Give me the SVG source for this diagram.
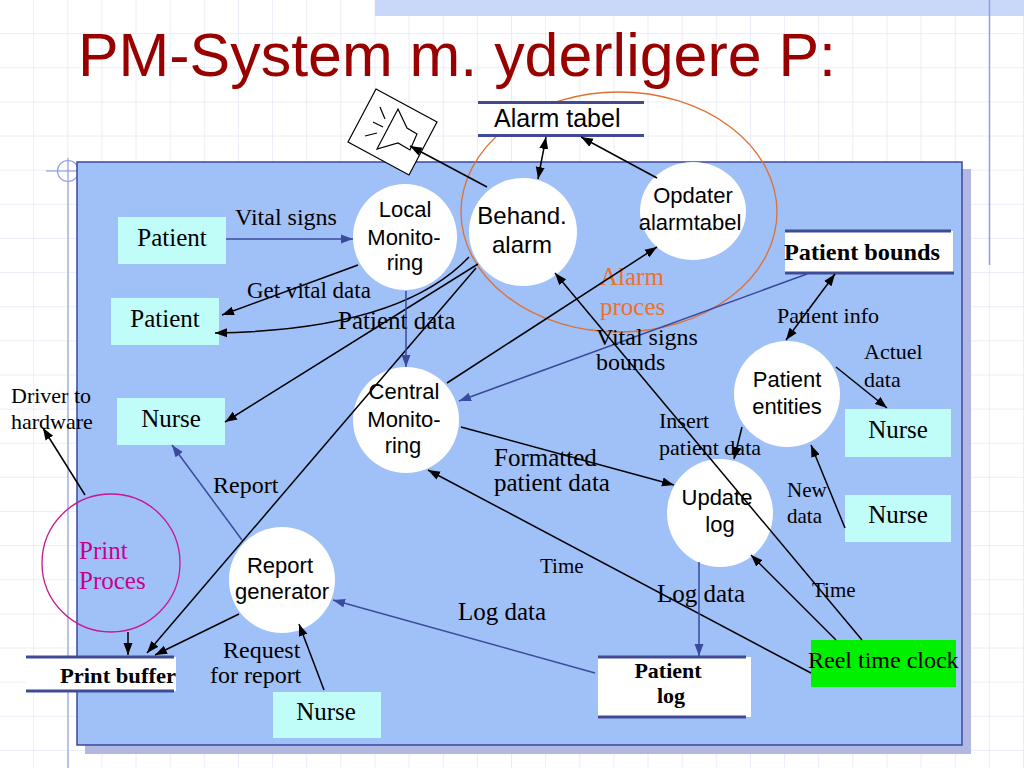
<svg xmlns="http://www.w3.org/2000/svg" width="1024" height="768" viewBox="0 0 1024 768">
<defs>
<pattern id="grid" x="0" y="0" width="34.133" height="34.133" patternUnits="userSpaceOnUse">
<path d="M34.133,0 V34.133 M0,34.133 H34.133" fill="none" stroke="#d6ddf3" stroke-width="1"/>
</pattern>
<marker id="ak" viewBox="0 0 12 10" refX="12" refY="5" markerWidth="12" markerHeight="10" markerUnits="userSpaceOnUse" orient="auto-start-reverse">
<path d="M0,0.5 L12,5 L0,9.5 z" fill="#000"/>
</marker>
<marker id="ab" viewBox="0 0 12 10" refX="12" refY="5" markerWidth="12" markerHeight="10" markerUnits="userSpaceOnUse" orient="auto-start-reverse">
<path d="M0,0.5 L12,5 L0,9.5 z" fill="#3b4a9c"/>
</marker>
</defs>
<style>
.sans{font-family:"Liberation Sans",Arial,sans-serif;fill:#000}
.serif{font-family:"Liberation Serif","Times New Roman",serif;fill:#000}
.proc{fill:#fff;stroke:none}
.term{fill:#c0fcf8;stroke:none}
.storebg{fill:#fff;stroke:none}
.storeline{stroke:#414a94;stroke-width:3}
.ck{fill:none;stroke:#000;stroke-width:1.5;marker-end:url(#ak)}
.cb{fill:none;stroke:#3b4a9c;stroke-width:1.5;marker-end:url(#ab)}
.mid{text-anchor:middle}
</style>
<!-- background -->
<rect x="0" y="0" width="1024" height="768" fill="#fff"/>
<rect x="0" y="0" width="1024" height="768" fill="url(#grid)"/>
<rect x="375" y="0" width="649" height="16" fill="#c9d8f8"/>
<line x1="989.5" y1="0" x2="989.5" y2="265" stroke="#8f9fe0" stroke-width="1.5"/>
<line x1="68" y1="158" x2="68" y2="768" stroke="#a4b0e6" stroke-width="1.5"/>
<circle cx="68" cy="171" r="10.5" fill="none" stroke="#8f9fe0" stroke-width="1.2"/>
<line x1="46" y1="171" x2="78" y2="171" stroke="#8f9fe0" stroke-width="1.2"/>
<text x="78" y="76" font-family="Liberation Sans, Arial, sans-serif" font-size="62" fill="#990000" textLength="758" lengthAdjust="spacingAndGlyphs">PM-System m. yderligere P:</text>
<!-- panel -->
<rect x="85" y="169" width="886" height="585" fill="#b2b8e2"/>
<rect x="77" y="162" width="885" height="583" fill="#a0c0f8" stroke="#3a48a0" stroke-width="1.5"/>
<!-- groupings -->
<g id="alarm-proces">
<ellipse cx="619" cy="212" rx="158" ry="120" fill="none" stroke="#e07030" stroke-width="1.3"/>
<text class="serif" x="600" y="285" font-size="25" style="fill:#ec7228">Alarm</text>
<text class="serif" x="600" y="315" font-size="25" style="fill:#ec7228">proces</text>
</g>
<g id="print-proces">
<ellipse cx="111" cy="563" rx="69" ry="69" fill="none" stroke="#c8188f" stroke-width="1.3"/>
<text class="serif" x="79" y="559" font-size="25" style="fill:#c8008f">Print</text>
<text class="serif" x="79" y="589" font-size="25" style="fill:#c8008f">Proces</text>
</g>
<!-- nodes -->
<g id="alarm-icon" fill="none" stroke="#000" stroke-width="1.2">
<polygon points="376,89 437,122 409,175 348,142" fill="#fff"/>
<polygon points="398,109 407,128 417,134 410,150 398,143 377,149"/>
<line x1="380" y1="107" x2="385" y2="119"/>
<line x1="373" y1="122" x2="383" y2="127"/>
<line x1="365" y1="136" x2="377" y2="133"/>
</g>
<g id="alarm-tabel">
<rect class="storebg" x="478" y="103" width="166" height="32"/>
<line class="storeline" x1="478" y1="102.5" x2="644" y2="102.5"/>
<line class="storeline" x1="478" y1="135.5" x2="644" y2="135.5"/>
<text class="sans" x="494" y="127" font-size="25">Alarm tabel</text>
</g>
<g id="patient-bounds">
<rect class="storebg" x="785" y="231" width="168" height="41"/>
<line class="storeline" x1="785" y1="231" x2="951" y2="231"/>
<line class="storeline" x1="785" y1="273" x2="954" y2="273"/>
<text class="serif" x="784" y="260" font-size="23" font-weight="bold" textLength="156" lengthAdjust="spacingAndGlyphs">Patient bounds</text>
</g>
<g id="print-buffer">
<rect class="storebg" x="26" y="657" width="150" height="34"/>
<line class="storeline" x1="26" y1="657" x2="174" y2="657"/>
<line class="storeline" x1="26" y1="691" x2="174" y2="691"/>
<text class="serif" x="60" y="683" font-size="22" font-weight="bold" textLength="116" lengthAdjust="spacingAndGlyphs">Print buffer</text>
</g>
<g id="patient-log">
<rect class="storebg" x="598" y="657" width="153" height="60"/>
<line class="storeline" x1="598" y1="657" x2="746" y2="657"/>
<line class="storeline" x1="598" y1="717" x2="746" y2="717"/>
<text class="serif mid" x="668" y="678" font-size="22" font-weight="bold">Patient</text>
<text class="serif mid" x="671" y="703" font-size="22" font-weight="bold">log</text>
</g>
<g id="local-monitoring">
<ellipse class="proc" cx="405" cy="237" rx="52" ry="53"/>
<text class="sans mid" x="405" y="217" font-size="22">Local</text>
<text class="sans mid" x="404" y="245" font-size="22">Monito-</text>
<text class="sans mid" x="405" y="270" font-size="22">ring</text>
</g>
<g id="behand-alarm">
<ellipse class="proc" cx="523" cy="232" rx="54" ry="54"/>
<text class="sans mid" x="522" y="224" font-size="24">Behand.</text>
<text class="sans mid" x="522" y="253" font-size="24">alarm</text>
</g>
<g id="opdater-alarmtabel">
<ellipse class="proc" cx="693" cy="211" rx="53" ry="49"/>
<text class="sans mid" x="693" y="203" font-size="22">Opdater</text>
<text class="sans mid" x="690" y="230" font-size="22">alarmtabel</text>
</g>
<g id="central-monitoring">
<ellipse class="proc" cx="406" cy="420" rx="53" ry="53"/>
<text class="sans mid" x="404" y="399" font-size="22">Central</text>
<text class="sans mid" x="404" y="427" font-size="22">Monito-</text>
<text class="sans mid" x="403" y="453" font-size="22">ring</text>
</g>
<g id="patient-entities">
<ellipse class="proc" cx="787" cy="394" rx="53" ry="53"/>
<text class="sans mid" x="787" y="387" font-size="22">Patient</text>
<text class="sans mid" x="787" y="414" font-size="22">entities</text>
</g>
<g id="update-log">
<ellipse class="proc" cx="720" cy="513" rx="53" ry="54"/>
<text class="sans mid" x="717" y="505" font-size="22">Update</text>
<text class="sans mid" x="720" y="532" font-size="22">log</text>
</g>
<g id="report-generator">
<ellipse class="proc" cx="282" cy="580" rx="53" ry="53"/>
<text class="sans mid" x="280" y="573" font-size="22">Report</text>
<text class="sans mid" x="282" y="599" font-size="22">generator</text>
</g>
<g id="patient-1">
<rect class="term" x="118" y="217" width="108" height="47"/>
<text class="serif mid" x="172" y="246" font-size="25">Patient</text>
</g>
<g id="patient-2">
<rect class="term" x="111" y="298" width="108" height="47"/>
<text class="serif mid" x="165" y="327" font-size="25">Patient</text>
</g>
<g id="nurse-left">
<rect class="term" x="117" y="398" width="108" height="47"/>
<text class="serif mid" x="171" y="427" font-size="25">Nurse</text>
</g>
<g id="nurse-right-top">
<rect class="term" x="845" y="409" width="106" height="48"/>
<text class="serif mid" x="898" y="438" font-size="25">Nurse</text>
</g>
<g id="nurse-right-bottom">
<rect class="term" x="845" y="495" width="106" height="47"/>
<text class="serif mid" x="898" y="523" font-size="25">Nurse</text>
</g>
<g id="nurse-bottom">
<rect class="term" x="273" y="692" width="108" height="46"/>
<text class="serif mid" x="326" y="720" font-size="25">Nurse</text>
</g>
<g id="reel-time-clock">
<rect x="811" y="640" width="145" height="47" fill="#00f000"/>
<text class="serif" x="808" y="668" font-size="24">Reel time clock</text>
</g>
<!-- connectors -->
<g id="connectors">
<line class="ck" x1="487" y1="187" x2="410" y2="146"/>
<line class="ck" x1="546" y1="137" x2="538" y2="179" style="marker-start:url(#ak)"/>
<line class="ck" x1="657" y1="178" x2="581" y2="137"/>
<line class="cb" x1="226" y1="239" x2="353" y2="239"/>
<line class="ck" x1="358" y1="265" x2="222" y2="315"/>
<path class="ck" d="M469,257 Q400,330 215,333"/>
<line class="ck" x1="478" y1="264" x2="225" y2="422"/>
<line class="ck" x1="476" y1="268" x2="147" y2="653"/>
<line class="ck" x1="447" y1="383" x2="657" y2="247"/>
<line class="cb" x1="406" y1="291" x2="406" y2="367"/>
<line class="cb" x1="807" y1="274" x2="459" y2="401"/>
<line class="ck" x1="835" y1="274" x2="786" y2="340" style="marker-start:url(#ak)"/>
<line class="ck" x1="836" y1="367" x2="887" y2="408"/>
<line class="ck" x1="742" y1="427" x2="734" y2="459"/>
<line class="ck" x1="845" y1="528" x2="811" y2="445"/>
<line class="ck" x1="461" y1="427" x2="674" y2="485"/>
<line class="ck" x1="811" y1="673" x2="428" y2="470"/>
<line class="ck" x1="836" y1="640" x2="751" y2="555"/>
<line class="ck" x1="862" y1="640" x2="555" y2="273"/>
<line class="cb" x1="699" y1="562" x2="699" y2="656"/>
<line class="cb" x1="595" y1="673" x2="333" y2="600"/>
<line class="ck" x1="324" y1="690" x2="299" y2="624"/>
<line class="ck" x1="239" y1="614" x2="155" y2="655"/>
<line class="cb" x1="242" y1="540" x2="172" y2="445"/>
<line class="ck" x1="128" y1="632" x2="128" y2="655"/>
<line class="ck" x1="85" y1="495" x2="43" y2="428"/>
</g>
<!-- connector labels -->
<g id="labels">
<text class="serif" x="235" y="225" font-size="24">Vital signs</text>
<text class="serif" x="247" y="298" font-size="23">Get vital data</text>
<text class="serif" x="338" y="329" font-size="25">Patient data</text>
<text class="serif" x="11" y="403" font-size="22">Driver to</text>
<text class="serif" x="11" y="429" font-size="22">hardware</text>
<text class="serif" x="213" y="493" font-size="24">Report</text>
<text class="serif" x="777" y="323" font-size="22">Patient info</text>
<text class="serif" x="596" y="345" font-size="24">Vital signs</text>
<text class="serif" x="596" y="370" font-size="24">bounds</text>
<text class="serif" x="864" y="359" font-size="22">Actuel</text>
<text class="serif" x="864" y="387" font-size="22">data</text>
<text class="serif" x="659" y="428" font-size="22">Insert</text>
<text class="serif" x="659" y="455" font-size="22">patient data</text>
<text class="serif" x="494" y="466" font-size="25">Formatted</text>
<text class="serif" x="494" y="491" font-size="25">patient data</text>
<text class="serif" x="787" y="497" font-size="21">New</text>
<text class="serif" x="787" y="523" font-size="21">data</text>
<text class="serif" x="540" y="573" font-size="21">Time</text>
<text class="serif" x="657" y="602" font-size="25">Log data</text>
<text class="serif" x="458" y="620" font-size="25">Log data</text>
<text class="serif" x="812" y="597" font-size="21">Time</text>
<text class="serif" x="223" y="658" font-size="24">Request</text>
<text class="serif" x="210" y="683" font-size="24">for report</text>
</g>
</svg>
